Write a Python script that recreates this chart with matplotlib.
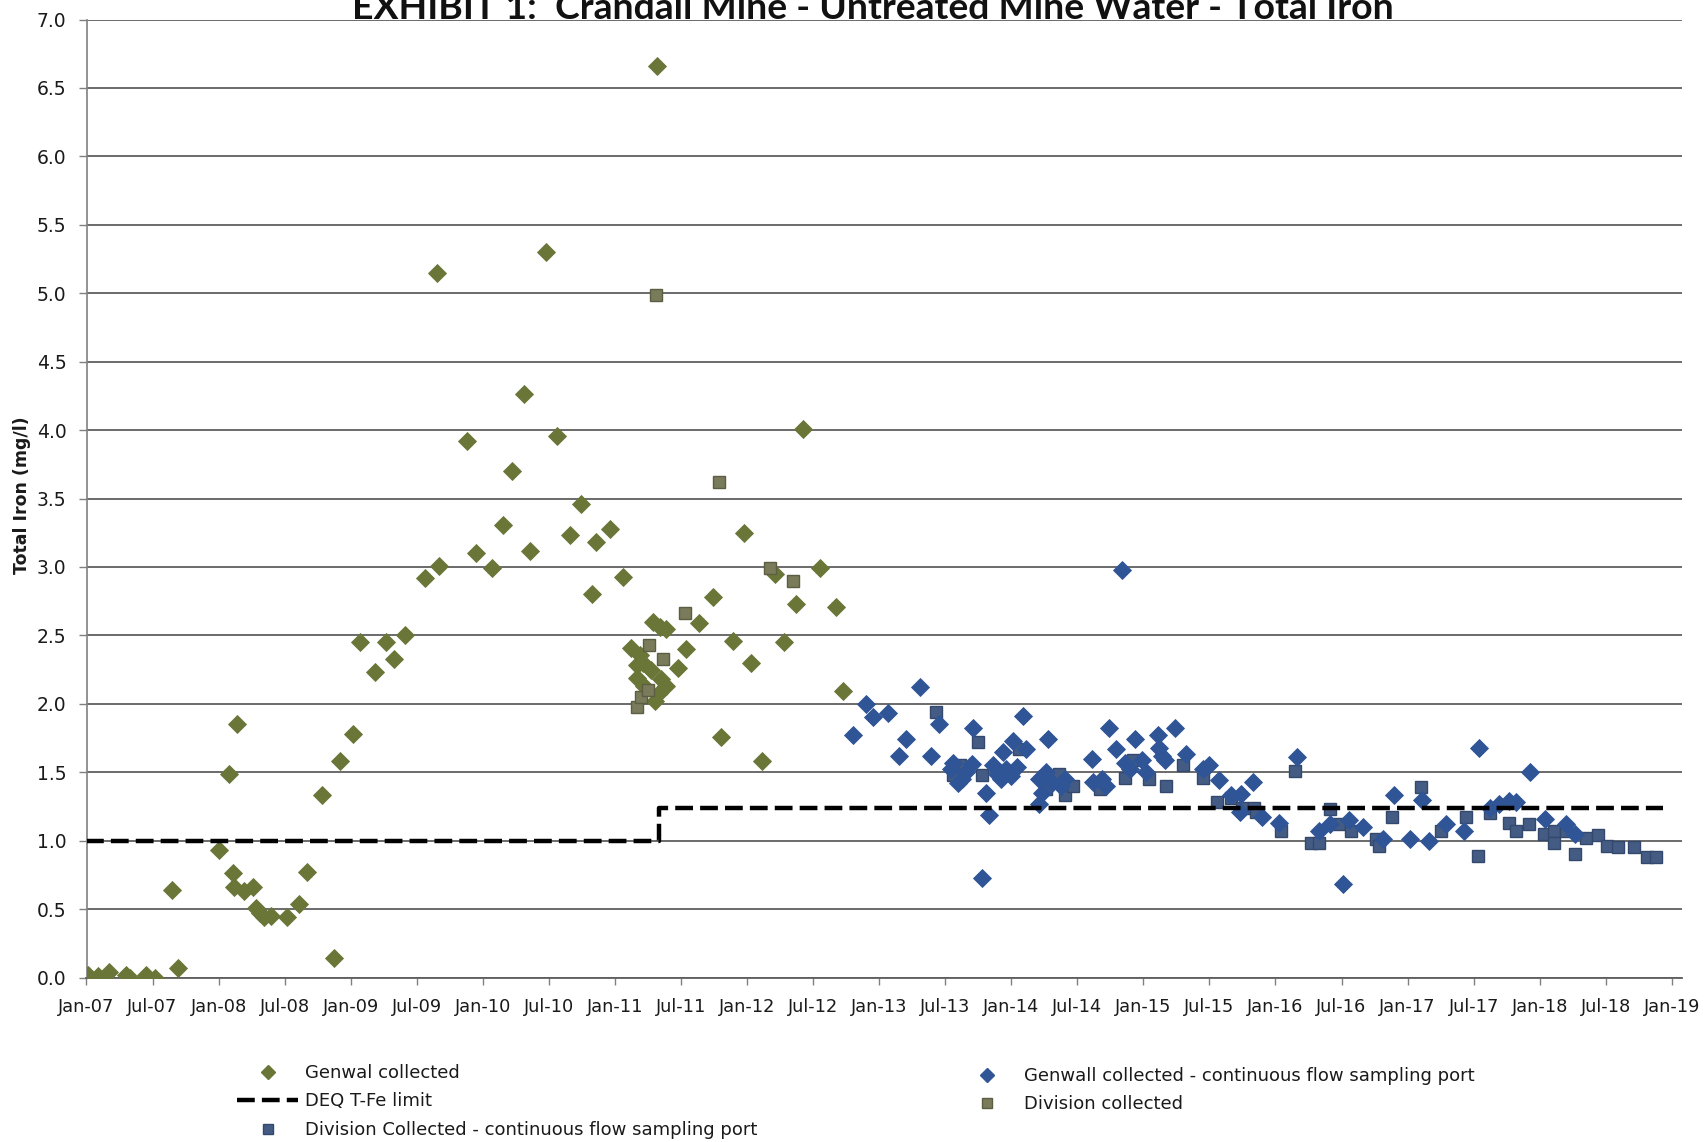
import matplotlib
matplotlib.use("Agg")
import matplotlib.pyplot as plt
from matplotlib.lines import Line2D

# ── Datos: fecha de muestreo (año decimal) y hierro total (mg/l) ───────────
genwal_yr = [2007.01, 2007.09, 2007.17, 2007.30, 2007.33, 2007.45, 2007.52, 2007.65,
             2007.69, 2008.00, 2008.08, 2008.11, 2008.12, 2008.14, 2008.19, 2008.26,
             2008.28, 2008.31, 2008.34, 2008.40, 2008.52, 2008.61, 2008.67, 2008.78,
             2008.87, 2008.92, 2009.02, 2009.07, 2009.18, 2009.27, 2009.33, 2009.41,
             2009.56, 2009.65, 2009.67, 2009.88, 2009.95, 2010.07, 2010.15, 2010.22,
             2010.31, 2010.36, 2010.48, 2010.56, 2010.66, 2010.74, 2010.83, 2010.86,
             2010.96, 2011.06, 2011.12, 2011.17, 2011.17, 2011.19, 2011.21, 2011.22,
             2011.27, 2011.29, 2011.30, 2011.32, 2011.33, 2011.34, 2011.35, 2011.39,
             2011.39, 2011.48, 2011.54, 2011.64, 2011.74, 2011.80, 2011.89, 2011.98,
             2012.03, 2012.11, 2012.21, 2012.28, 2012.37, 2012.42, 2012.55, 2012.67,
             2012.73]
genwal_fe = [0.02, 0.01, 0.04, 0.02, 0.00, 0.02, 0.00, 0.64,
             0.07, 0.93, 1.49, 0.76, 0.66, 1.85, 0.63, 0.66,
             0.51, 0.47, 0.44, 0.45, 0.44, 0.54, 0.77, 1.33,
             0.14, 1.58, 1.78, 2.45, 2.23, 2.45, 2.33, 2.50,
             2.92, 5.15, 3.01, 3.92, 3.10, 2.99, 3.31, 3.70,
             4.26, 3.12, 5.30, 3.96, 3.23, 3.46, 2.80, 3.18,
             3.28, 2.93, 2.41, 2.19, 2.28, 2.36, 2.30, 2.13,
             2.25, 2.60, 2.02, 6.66, 2.08, 2.56, 2.18, 2.55,
             2.13, 2.26, 2.40, 2.59, 2.78, 1.76, 2.46, 3.25,
             2.30, 1.58, 2.95, 2.45, 2.73, 4.01, 2.99, 2.71,
             2.09]

division_yr = [2011.17, 2011.20, 2011.25, 2011.26, 2011.31, 2011.36, 2011.53, 2011.79,
               2012.17, 2012.35]
division_fe = [1.98, 2.05, 2.10, 2.43, 4.99, 2.33, 2.66, 3.62,
               2.99, 2.90]

genwall_cf_yr = [2012.80, 2012.90, 2012.95, 2013.07, 2013.15, 2013.20, 2013.31, 2013.39,
                 2013.45, 2013.54, 2013.56, 2013.60, 2013.63, 2013.66, 2013.70, 2013.71,
                 2013.78, 2013.81, 2013.83, 2013.86, 2013.89, 2013.92, 2013.94, 2013.96,
                 2014.00, 2014.01, 2014.04, 2014.09, 2014.11, 2014.21, 2014.21, 2014.23,
                 2014.26, 2014.28, 2014.31, 2014.38, 2014.41, 2014.61, 2014.62, 2014.69,
                 2014.72, 2014.74, 2014.79, 2014.84, 2014.86, 2014.90, 2014.94, 2014.99,
                 2015.02, 2015.11, 2015.12, 2015.14, 2015.16, 2015.24, 2015.32, 2015.45,
                 2015.50, 2015.57, 2015.66, 2015.73, 2015.74, 2015.83, 2015.90, 2016.03,
                 2016.16, 2016.33, 2016.41, 2016.51, 2016.56, 2016.66, 2016.81, 2016.90,
                 2017.02, 2017.11, 2017.16, 2017.29, 2017.43, 2017.54, 2017.62, 2017.69,
                 2017.77, 2017.82, 2017.93, 2018.04, 2018.20, 2018.27]
genwall_cf_fe = [1.77, 2.00, 1.90, 1.93, 1.62, 1.74, 2.12, 1.62,
                 1.85, 1.52, 1.57, 1.42, 1.45, 1.50, 1.56, 1.82,
                 0.73, 1.35, 1.19, 1.55, 1.49, 1.45, 1.65, 1.52,
                 1.47, 1.73, 1.54, 1.91, 1.67, 1.45, 1.27, 1.35,
                 1.50, 1.74, 1.42, 1.40, 1.45, 1.60, 1.43, 1.45,
                 1.40, 1.82, 1.67, 2.98, 1.57, 1.52, 1.74, 1.59,
                 1.50, 1.77, 1.68, 1.62, 1.59, 1.82, 1.63, 1.52,
                 1.55, 1.44, 1.33, 1.21, 1.34, 1.43, 1.17, 1.13,
                 1.61, 1.07, 1.12, 0.68, 1.15, 1.10, 1.01, 1.33,
                 1.01, 1.30, 1.00, 1.12, 1.07, 1.68, 1.24, 1.27,
                 1.29, 1.28, 1.50, 1.16, 1.12, 1.05]

division_cf_yr = [2013.43, 2013.56, 2013.61, 2013.75, 2013.78, 2014.06, 2014.26, 2014.36,
                  2014.41, 2014.47, 2014.67, 2014.86, 2014.92, 2015.04, 2015.17, 2015.30,
                  2015.45, 2015.56, 2015.66, 2015.75, 2015.84, 2015.85, 2016.04, 2016.15,
                  2016.27, 2016.33, 2016.41, 2016.48, 2016.57, 2016.76, 2016.78, 2016.88,
                  2017.10, 2017.25, 2017.44, 2017.53, 2017.62, 2017.77, 2017.82, 2017.92,
                  2018.03, 2018.11, 2018.11, 2018.20, 2018.27, 2018.35, 2018.44, 2018.51,
                  2018.59, 2018.71, 2018.81, 2018.88]
division_cf_fe = [1.94, 1.48, 1.55, 1.72, 1.48, 1.67, 1.38, 1.49,
                  1.33, 1.40, 1.38, 1.46, 1.59, 1.45, 1.40, 1.55,
                  1.46, 1.28, 1.31, 1.24, 1.24, 1.21, 1.07, 1.51,
                  0.98, 0.98, 1.23, 1.12, 1.07, 1.01, 0.96, 1.17,
                  1.39, 1.07, 1.17, 0.89, 1.20, 1.13, 1.07, 1.12,
                  1.05, 1.07, 0.98, 1.07, 0.90, 1.02, 1.04, 0.96,
                  0.95, 0.95, 0.88, 0.88]

# límite DEQ (escalonado)
limit_yr = [2007.0, 2011.33, 2018.93]
limit_fe = [1.00, 1.24, 1.24]

xtick_pos = [2007 + 0.5 * k for k in range(25)]
xtick_lbl = ["Jan-07", "Jul-07", "Jan-08", "Jul-08", "Jan-09", "Jul-09", "Jan-10",
             "Jul-10", "Jan-11", "Jul-11", "Jan-12", "Jul-12", "Jan-13", "Jul-13",
             "Jan-14", "Jul-14", "Jan-15", "Jul-15", "Jan-16", "Jul-16", "Jan-17",
             "Jul-17", "Jan-18", "Jul-18", "Jan-19"]
ytick_pos = [0.5 * k for k in range(15)]

# ── Colores ────────────────────────────────────────────────────────────────
GREEN = "#6A7638"
BLUE = "#2F5597"
DIV_FC, DIV_EC = "#7A7B5A", "#5C5D43"
DCF_FC, DCF_EC = "#445C84", "#33486C"
GRIDC = "#5f5f5f"

W, H = 1705, 1142
fig = plt.figure(figsize=(W / 100, H / 100), dpi=100, facecolor="white")
ax = fig.add_axes([86.5 / W, 1 - 977.5 / H, (1682 - 86.5) / W, (977.5 - 19.5) / H])

mk = dict(ls="none", zorder=3)
ax.plot(genwal_yr, genwal_fe, marker="D", ms=8.8, mfc=GREEN, mec=GREEN, mew=0.6, **mk)
ax.plot(division_cf_yr, division_cf_fe, marker="s", ms=8.4, mfc=DCF_FC, mec=DCF_EC, mew=1.0, **mk)
ax.plot(genwall_cf_yr, genwall_cf_fe, marker="D", ms=8.8, mfc=BLUE, mec=BLUE, mew=0.6, **mk)
ax.plot(division_yr, division_fe, marker="s", ms=8.4, mfc=DIV_FC, mec=DIV_EC, mew=1.0, **mk)
ax.plot(limit_yr, limit_fe, drawstyle="steps-post", color="black", lw=3.2,
        dashes=(4.0, 1.6), zorder=4)

ax.set_xlim(2007.0, 2019.077)
ax.set_ylim(0, 7)
ax.set_xticks(xtick_pos)
ax.set_xticklabels(xtick_lbl)
ax.set_yticks(ytick_pos)
ax.set_yticklabels([f"{v:.1f}" for v in ytick_pos])
ax.tick_params(axis="x", direction="out", length=5, width=1, color="#808080",
               labelsize=12.8, pad=9.5, labelcolor="#1a1a1a")
ax.tick_params(axis="y", direction="out", length=6, width=1, color="#808080",
               labelsize=13.5, pad=8.5, labelcolor="#1a1a1a")
ax.grid(True, axis="y", color=GRIDC, lw=1.3)
ax.set_axisbelow(True)
for sp in ["top", "right"]:
    ax.spines[sp].set_visible(False)
ax.spines["left"].set_color("#808080")
ax.spines["left"].set_linewidth(1.2)
ax.spines["bottom"].set_color(GRIDC)
ax.spines["bottom"].set_linewidth(1.3)

fig.text(22 / W, 1 - 495 / H, "Total Iron (mg/l)", rotation=90, ha="center",
         va="center", fontsize=12.5, fontweight="bold", color="#1a1a1a")

# Titulo, ajustado al ancho
title = fig.text(873 / W, 1 - 19 / H,
                 "EXHIBIT 1:  Crandall Mine - Untreated Mine Water - Total Iron",
                 ha="center", va="baseline", fontsize=24, fontweight="bold",
                 family=["Lato", "DejaVu Sans"], color="#111111")
fig.canvas.draw()
tw = title.get_window_extent().width
title.set_fontsize(24 * 1042 / tw)

# ── Leyenda en dos bloques ────────────────────────────────────────────────
h_genwal = Line2D([], [], ls="none", marker="D", ms=7, mfc=GREEN, mec=GREEN)
h_deq = Line2D([], [], color="black", lw=3.2, dashes=(4.0, 1.6))
h_dcf = Line2D([], [], ls="none", marker="s", ms=6.5, mfc=DCF_FC, mec=DCF_EC)
h_gcf = Line2D([], [], ls="none", marker="D", ms=7, mfc=BLUE, mec=BLUE)
h_div = Line2D([], [], ls="none", marker="s", ms=6.5, mfc=DIV_FC, mec=DIV_EC)

legkw = dict(loc="upper left", frameon=False, fontsize=13, handlelength=3.4,
             handletextpad=0.35, labelspacing=0.58, borderpad=0, borderaxespad=0,
             labelcolor="#1a1a1a")
leg1 = fig.legend([h_genwal, h_deq, h_dcf],
                  ["Genwal collected", "DEQ T-Fe limit",
                   "Division Collected - continuous flow sampling port"],
                  bbox_to_anchor=(237 / W, 1 - 1064 / H), **legkw)
leg2 = fig.legend([h_gcf, h_div],
                  ["Genwall collected - continuous flow sampling port",
                   "Division collected"],
                  bbox_to_anchor=(956 / W, 1 - 1067 / H), **legkw)

fig.savefig("out.png", dpi=100, facecolor="white")
